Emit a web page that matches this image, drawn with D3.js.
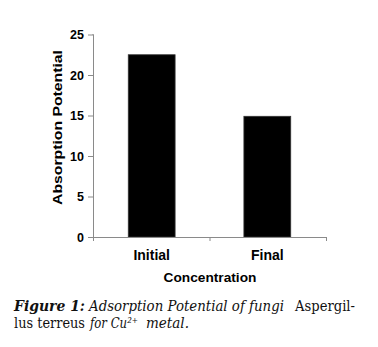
<!DOCTYPE html>
<html>
<head>
<meta charset="utf-8">
<script src="https://cdn.jsdelivr.net/npm/d3@7"></script>
<style>
  html, body { margin: 0; padding: 0; background: #fff; }
  svg { display: block; }
</style>
</head>
<body>
<svg id="chart" width="378" height="347"></svg>
<script>
// Absorption potential before and after treatment
const categories = ["Initial", "Final"];
const absorption = [22.5, 14.9];
const yTicks = [0, 5, 10, 15, 20, 25];

const svg = d3.select("#chart");
const axisColor = "#8a8a8a";
const sans = "Liberation Sans, Arial, sans-serif";

const plot = { left: 93, right: 326, top: 34.5, bottom: 237 };

const x = d3.scaleBand()
  .domain(categories)
  .range([plot.left, plot.right])
  .paddingInner(0.595)
  .paddingOuter(0.305);

const y = d3.scaleLinear()
  .domain([0, 25])
  .range([plot.bottom, plot.top]);

// bars
svg.append("g")
  .selectAll("rect")
  .data(categories)
  .join("rect")
  .attr("x", d => x(d))
  .attr("width", x.bandwidth())
  .attr("y", (d, i) => y(absorption[i]))
  .attr("height", (d, i) => y(0) - y(absorption[i]))
  .attr("fill", "#000")
  .attr("stroke", "#333")
  .attr("stroke-width", 0.8);

// y axis
const yAxis = svg.append("g")
  .attr("transform", `translate(${plot.left},0)`)
  .call(d3.axisLeft(y).tickValues(yTicks).tickSize(5).tickPadding(4).tickFormat(d3.format("d")));
yAxis.select(".domain").attr("stroke", axisColor).attr("d", `M-0.5,${plot.top}H0.5V${plot.bottom}`);
yAxis.selectAll(".tick line").attr("stroke", axisColor);
yAxis.selectAll(".tick text")
  .attr("fill", "#000")
  .style("font-family", sans)
  .style("font-weight", "bold")
  .style("font-size", "12.5px");

// x axis: ticks sit on the category boundaries
const boundaries = [plot.left, (x(categories[0]) + x.bandwidth() + x(categories[1])) / 2, plot.right];
const xAxis = svg.append("g");
xAxis.append("line")
  .attr("x1", plot.left).attr("x2", plot.right)
  .attr("y1", plot.bottom + 0.5).attr("y2", plot.bottom + 0.5)
  .attr("stroke", axisColor);
xAxis.selectAll("line.tk")
  .data(boundaries)
  .join("line")
  .attr("class", "tk")
  .attr("x1", d => d + 0.5).attr("x2", d => d + 0.5)
  .attr("y1", plot.bottom).attr("y2", plot.bottom + 4)
  .attr("stroke", axisColor);
xAxis.selectAll("text")
  .data(categories)
  .join("text")
  .attr("x", d => x(d) + x.bandwidth() / 2)
  .attr("y", 260)
  .attr("text-anchor", "middle")
  .style("font-family", sans)
  .style("font-weight", "bold")
  .style("font-size", "14px")
  .text(d => d);

// axis titles
svg.append("text")
  .attr("x", 210)
  .attr("y", 281.5)
  .attr("text-anchor", "middle")
  .style("font-family", sans)
  .style("font-weight", "bold")
  .style("font-size", "13.7px")
  .text("Concentration");

svg.append("text")
  .attr("transform", `translate(61.5,127.5) rotate(-90)`)
  .attr("text-anchor", "middle")
  .attr("textLength", 155)
  .attr("lengthAdjust", "spacingAndGlyphs")
  .style("font-family", sans)
  .style("font-weight", "bold")
  .style("font-size", "13.5px")
  .text("Absorption Potential");

// figure caption, set piece by piece
const serif = "DejaVu Serif, Georgia, serif";
const captionParts = [
  { t: "Figure 1:", x: 14, y: 311, w: 71, weight: "bold", style: "italic" },
  { t: "Adsorption Potential of fungi", x: 89, y: 311, w: 195, style: "italic" },
  { t: "Aspergil-", x: 295, y: 311, w: 60 },
  { t: "lus terreus", x: 14, y: 328, w: 71 },
  { t: "for Cu\u00B2\u207A", x: 90, y: 328, w: 48, style: "italic" },
  { t: "metal.", x: 146, y: 328, w: 43, style: "italic" }
];
svg.append("g")
  .style("font-family", serif)
  .attr("fill", "#111")
  .selectAll("text")
  .data(captionParts)
  .join("text")
  .attr("x", d => d.x)
  .attr("y", d => d.y)
  .attr("textLength", d => d.w)
  .attr("lengthAdjust", "spacingAndGlyphs")
  .style("font-size", "14.5px")
  .style("font-weight", d => d.weight || "normal")
  .style("font-style", d => d.style || "normal")
  .text(d => d.t);
</script>
</body>
</html>
